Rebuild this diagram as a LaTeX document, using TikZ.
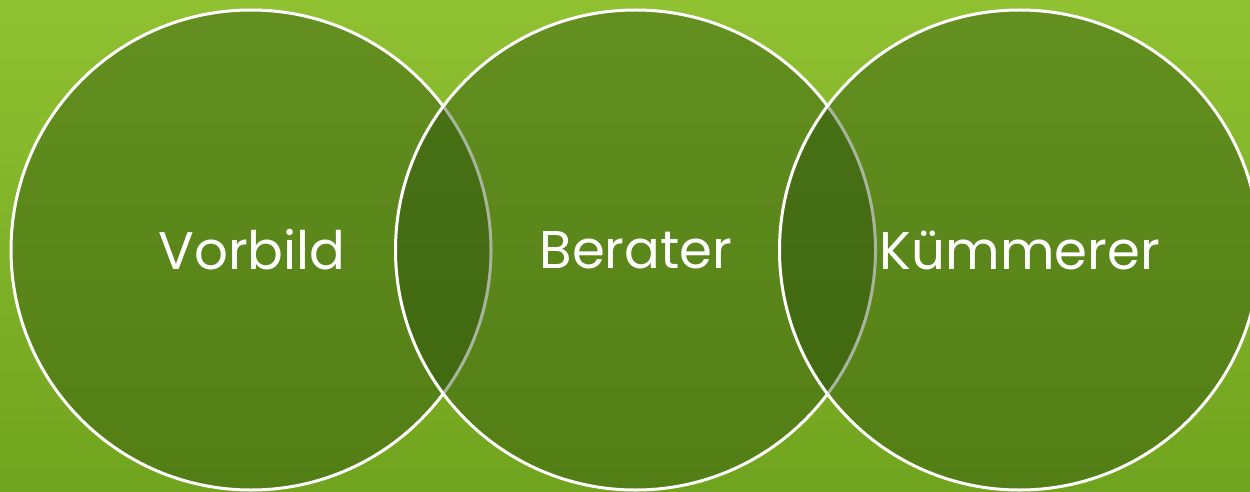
\documentclass[tikz,border=0pt]{standalone}
\usepackage{fontspec}
\setmainfont{Poppins}
\definecolor{bgtop}{RGB}{143,193,49}
\definecolor{bgbot}{RGB}{113,164,30}
\definecolor{cfill}{RGB}{36,70,8}
\begin{document}
\begin{tikzpicture}[x=1pt,y=-1pt,
  venn/.style={circle,minimum size=480pt,inner sep=0pt,fill=cfill,fill opacity=0.40,draw=white,draw opacity=1,line width=3pt},
  lbl/.style={text=white,font=\fontsize{53}{53}\selectfont,inner sep=0pt}]
\shade[top color=bgtop,bottom color=bgbot] (0,0) rectangle (1250,492);
\useasboundingbox (0,0) rectangle (1250,492);
\node[venn] (c1) at (251,250) {};
\node[venn] (c2) at (635.5,250) {};
\node[venn] (c3) at (1019.5,250) {};
\node[lbl] (t1) at (252,250) {Vorbild};
\node[lbl] (t2) at (636,250) {Berater};
\node[lbl] (t3) at (1020,250) {Kümmerer};
\end{tikzpicture}
\end{document}
